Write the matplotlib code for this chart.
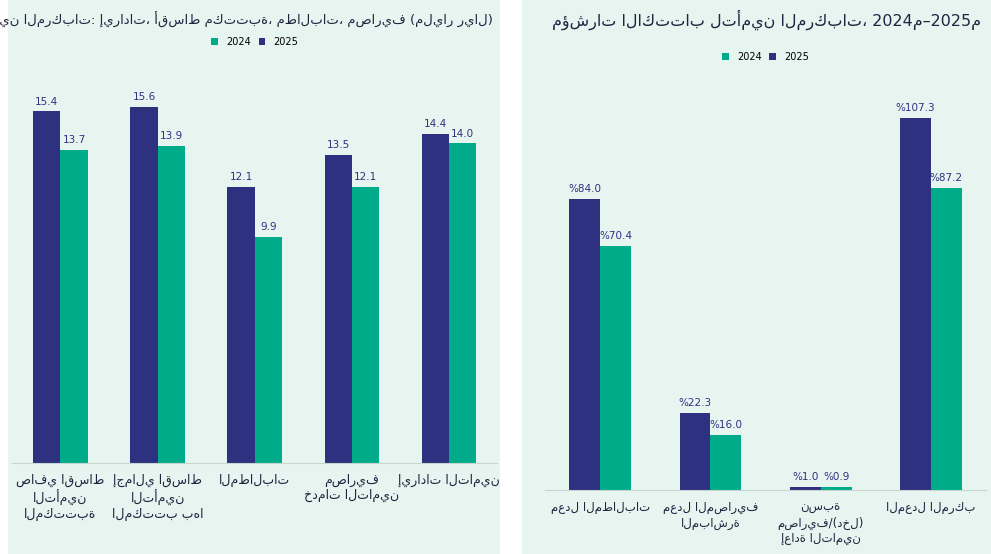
import matplotlib.pyplot as plt
import numpy as np

plt.rcParams['font.family'] = ['DejaVu Sans']

NAVY = '#2e3180'
GREEN = '#00ab8a'
BG = '#e7f5f1'

# left panel data
left_cats = ['صافي اقساط\nالتأمين\nالمكتتبة', 'إجمالي اقساط\nالتأمين\nالمكتتب بها', 'المطالبات',
             'مصاريف\nخدمات التامين', 'إيرادات التامين']
left_2025 = [15.4, 15.6, 12.1, 13.5, 14.4]
left_2024 = [13.7, 13.9, 9.9, 12.1, 14.0]

# right panel data
right_cats = ['معدل المطالبات', 'معدل المصاريف\nالمباشرة', 'نسبة\nمصاريف/(دخل)\nإعادة التامين', 'المعدل المركب']
right_2025 = [84.0, 22.3, 1.0, 107.3]
right_2024 = [70.4, 16.0, 0.9, 87.2]

fig = plt.figure(figsize=(9.91, 5.54), dpi=100)
fig.patch.set_facecolor('white')

# panel backgrounds
for x0, wd in [(0.008, 0.497), (0.527, 0.473)]:
    fig.patches.append(plt.Rectangle((x0, 0.0), wd, 1.0, transform=fig.transFigure,
                                     facecolor=BG, edgecolor='none', zorder=-1))

w = 0.28


def panel(rect, cats, v25, v24, ymax, fmt, title, tfs, lfs):
    ax = fig.add_axes(rect)
    ax.set_facecolor('none')
    x = np.arange(len(cats))
    b1 = ax.bar(x - w / 2, v25, w, color=NAVY, label='2025')
    b2 = ax.bar(x + w / 2, v24, w, color=GREEN, label='2024')
    for bars, vals in [(b1, v25), (b2, v24)]:
        for b, v in zip(bars, vals):
            ax.text(b.get_x() + b.get_width() / 2, v + ymax * 0.012, fmt(v),
                    ha='center', va='bottom', fontsize=7.5, color=NAVY)
    ax.set_ylim(0, ymax)
    ax.set_xlim(-0.5, len(cats) - 0.5)
    ax.set_yticks([])
    ax.set_xticks(x)
    ax.set_xticklabels(cats, fontsize=lfs, color='#1f2440', va='top')
    ax.tick_params(axis='x', length=0, pad=8)
    for s in ['top', 'right', 'left']:
        ax.spines[s].set_visible(False)
    ax.spines['bottom'].set_color('#c8d4d0')
    ax.legend(loc='upper center', bbox_to_anchor=(0.5, 1.12), ncol=2, frameon=False,
              fontsize=7, handlelength=0.7, handleheight=0.7, columnspacing=0.8,
              reverse=True)
    fig.text(rect[0] + rect[2] - 0.005, 0.965, title, ha='right', va='center',
             fontsize=tfs, color='#1f2440')
    return ax


panel([0.012, 0.165, 0.49, 0.70], left_cats, left_2025, left_2024, 17.0,
      lambda v: f'{v:.1f}', 'تأمين المركبات: إيرادات، أقساط مكتتبة، مطالبات، مصاريف (مليار ريال)', 9.5, 9)
panel([0.55, 0.115, 0.445, 0.72], right_cats, right_2025, right_2024, 115.0,
      lambda v: f'%{v:.1f}', 'مؤشرات الاكتتاب لتأمين المركبات، 2024م–2025م', 11.5, 8.5)

fig.savefig('out.png', dpi=100, facecolor='white')
